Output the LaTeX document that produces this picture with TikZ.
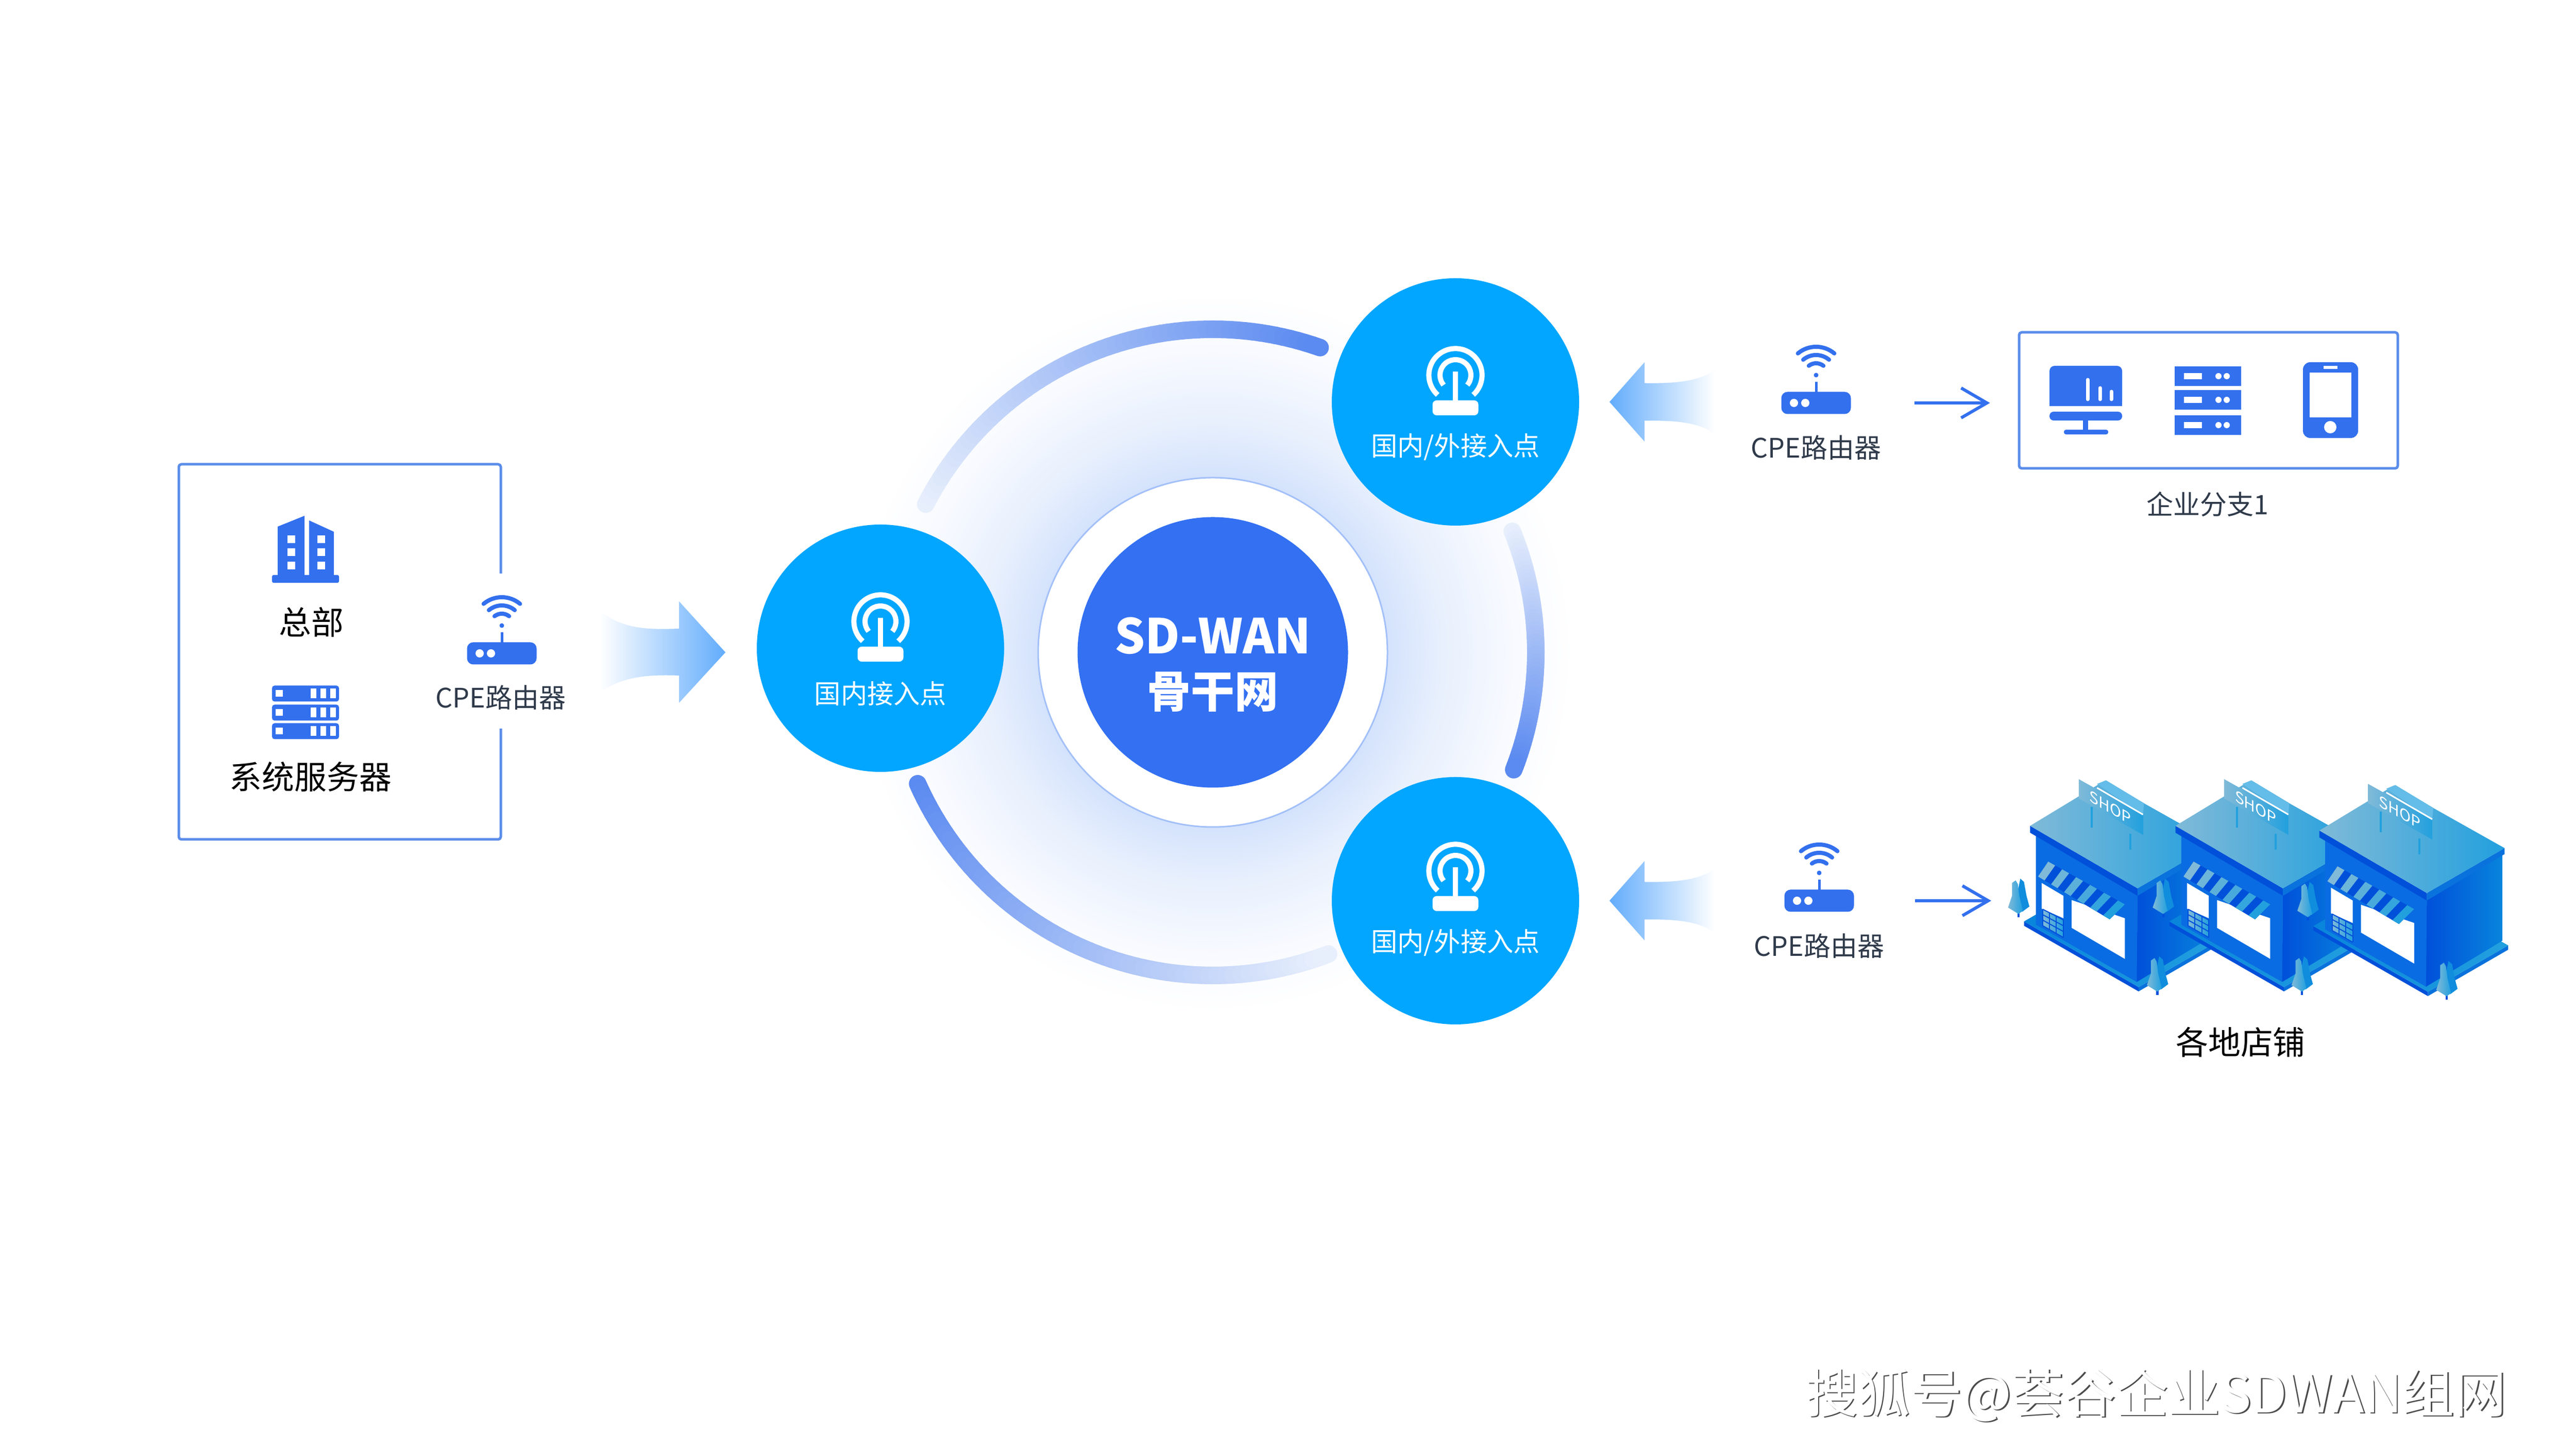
\documentclass[tikz,border=0pt]{standalone}
\usepackage{fontspec}
\setmainfont{Noto Sans CJK SC}
\usetikzlibrary{arrows.meta,calc}
\definecolor{iconblue}{HTML}{3370EE}
\definecolor{hubblue}{HTML}{3370F2}
\definecolor{accessblue}{HTML}{02A6FF}
\definecolor{framecol}{HTML}{5B8DEA}
\definecolor{inkdark}{HTML}{2F3A4A}
\definecolor{flowblue}{HTML}{62ACFC}
\definecolor{arcblue}{HTML}{5B8AF0}
\definecolor{arclight}{HTML}{E8EFFC}
\definecolor{glowa}{HTML}{D3E2FC}
\definecolor{glowb}{HTML}{E8F0FD}
\definecolor{glowc}{HTML}{F8FAFF}
\definecolor{shopdeep}{HTML}{0050DA}
\definecolor{shopwall}{HTML}{0A6CE2}
\definecolor{shopside}{HTML}{0884DC}
\definecolor{shopedge}{HTML}{0A72DC}
\definecolor{shoppale}{HTML}{80BAD8}
\definecolor{shopsky}{HTML}{22A0DE}
\pgfdeclareradialshading{glow}{\pgfpointorigin}{color(0bp)=(glowa); color(12bp)=(glowa); color(16bp)=(glowb); color(21bp)=(glowc); color(25bp)=(white); color(50bp)=(white)}
\tikzset{
  hubnode/.style={circle,fill=hubblue,minimum size=5.25cm,inner sep=0pt},
  hubtext/.style={text=white,align=center,inner sep=0pt,font=\fontsize{26.5}{30}\selectfont\bfseries},
  ringnode/.style={circle,fill=white,draw=glowa!70!iconblue,line width=.03cm,minimum size=6.78cm,inner sep=0pt},
  accessnode/.style={circle,fill=accessblue,minimum size=4.8cm,inner sep=0pt},
  accesstext/.style={text=white,inner sep=0pt,font=\fontsize{14.6}{17}\selectfont},
  basenode/.style={fill=iconblue,rounded corners=.12cm,minimum width=1.35cm,minimum height=.43cm,inner sep=0pt},
  cpetext/.style={text=inkdark,inner sep=0pt,font=\fontsize{14.8}{17}\selectfont},
  darktext/.style={text=black,inner sep=0pt,font=\fontsize{17.9}{20}\selectfont},
  framebox/.style={draw=framecol,line width=.05cm,rounded corners=.05cm},
  flowline/.style={draw=iconblue,line width=.06cm,-{Straight Barb[length=.5cm,width=.58cm]}},
  radio/.pic={
    \draw[white,line width=.1cm] (0,.52) ++(-48:.516) arc (-48:228:.516);
    \draw[white,line width=.1cm] (0,.52) ++(-40:.3) arc (-40:220:.3);
    \draw[white,line width=.1cm] (0,0) -- (0,.59);
    \fill[white,rounded corners=.08cm] (-.445,.03) rectangle (.445,-.26);
  },
  router/.pic={
    \draw[iconblue,line width=.05cm] (0,.2) -- (0,.41);
    \fill[iconblue] (0,.54) circle (.045);
    \foreach \r/\w in {.23/38,.39/40,.55/40}
      \draw[iconblue,line width=.08cm,line cap=round] (0,.54) ++(90-\w:\r) arc (90-\w:90+\w:\r);
    \fill[white] (-.43,0) circle (.08) (-.21,0) circle (.08);
  },
  inflow/.pic={
    \shade[left color=flowblue,right color=white] (2.04,.62) .. controls (1.7,.36) and (1.1,.36) .. (.68,.365)
      -- (.68,.77) -- (0,0) -- (.68,-.77) -- (.68,-.365) .. controls (1.1,-.36) and (1.7,-.36) .. (2.04,-.62) -- cycle;
  },
  rackrow/.pic={
    \fill[iconblue,rounded corners=.05cm] (-.65,-.155) rectangle (.65,.155);
    \fill[white] (-.58,-.065) rectangle (-.44,.065);
    \foreach \x in {.15,.34,.53} \fill[white] (\x-.055,-.095) rectangle (\x+.055,.095);
  },
  slimrow/.pic={
    \fill[iconblue] (-.645,-.19) rectangle (.645,.19);
    \fill[white] (-.46,-.06) rectangle (-.11,.06);
    \fill[white] (.21,0) circle (.06) (.37,0) circle (.06);
  },
  shop/.pic={
    \fill[shopdeep] (183,815) -- (500,1122) -- (500,1142) -- (183,835) -- cycle;
    \fill[shopedge] (500,1122) -- (722,905) -- (722,925) -- (500,1142) -- cycle;
    \shade[left color=shopside,right color=shopsky] (183,815) -- (405,600) -- (722,905) -- (500,1122) -- cycle;
    \shade[left color=shopdeep,right color=shopside] (497,665) -- (706,470) -- (706,883) -- (495,1098) -- cycle;
    \fill[shopwall] (216,395) -- (497,665) -- (495,1098) -- (216,830) -- cycle;
    \fill[shopdeep] (200,368) -- (497,660) -- (497,695) -- (200,400) -- cycle;
    \fill[shopedge] (497,660) -- (712,450) -- (712,478) -- (497,695) -- cycle;
    \shade[left color=shoppale,right color=shopsky] (200,368) -- (405,158) -- (712,450) -- (497,660) -- cycle;
    \fill[white] (232,635) -- (292,695) -- (292,800) -- (232,755) -- cycle;
    \fill[white] (315,715) -- (462,800) -- (462,990) -- (315,845) -- cycle;
    \shade[left color=shoppale,right color=shopsky] (235,758) -- (292,808) -- (292,890) -- (235,835) -- cycle;
    \foreach \f in {0,.33,.66,1} {
      \draw[shopdeep,line width=.02cm] ($(235,758)!\f!(292,808)$) -- ($(235,835)!\f!(292,890)$);
      \draw[shopdeep,line width=.02cm] ($(235,758)!\f!(235,835)$) -- ($(292,808)!\f!(292,890)$);
    }
    \fill[shopdeep] (250,535) -- (462,735) -- (420,805) -- (222,605) -- cycle;
    \foreach \i in {0,2,...,10} {
      \pgfmathsetmacro\sa{\i/11}
      \pgfmathsetmacro\sb{(\i+1)/11}
      \pgfmathsetmacro\mx{100*\i/10}
      \fill[shopsky!\mx!shoppale] ($(250,535)!\sa!(462,735)$) -- ($(250,535)!\sb!(462,735)$) -- ($(222,605)!\sb!(420,805)$) -- ($(222,605)!\sa!(420,805)$) -- cycle;
    }
    \fill[shopsky!70!white] (385,172) -- (410,155) -- (515,262) -- (512,318) -- cycle;
    \shade[left color=shoppale,right color=shopsky] (335,150) -- (512,318) -- (512,410) -- (335,240) -- cycle;
    \draw[white,line width=.03cm] (385,190) -- (512,315);
    \draw[shopsky,line width=.04cm] (370,280) -- (370,375);
    \draw[shopsky,line width=.04cm] (477,405) -- (477,480);
    \begin{scope}[shift={(422,282)},yslant=-.57]
      \node[transform shape,text=white,inner sep=0pt,font=\fontsize{8.5}{10}\selectfont] (signtext) at (0,0) {SHOP};
    \end{scope}
  },
  tree/.pic={
    \fill[shopdeep] (-3,-20) rectangle (3,0);
    \fill[shopside!70!shopsky] (5,-180) -- (15,-165) -- (22,-100) -- (30,-50) -- (10,-25) -- (-10,-60) -- cycle;
    \shade[left color=shoppale,right color=shopsky] (-18,-160) -- (-8,-172) -- (-2,-155) -- (2,-100) -- (12,-30) -- (0,-15) -- (-29,-45) -- (-18,-100) -- cycle;
  }
}
\newcommand{\gradarc}[4]{
  \foreach \i in {0,...,59} {
    \pgfmathsetmacro\mx{100*\i/59}
    \pgfmathsetmacro\p{#1+(#2-#1)*\i/60}
    \pgfmathsetmacro\q{#1+(#2-#1)*(\i+1)/60}
    \draw[line width=.34cm,line cap=round,draw=#4!\mx!#3] (23.54,15.46) ++(\p:6.27) arc (\p:\q:6.27);
  }
}
\begin{document}
\begin{tikzpicture}[>=stealth, line join=round]
  \useasboundingbox (0,0) rectangle (50,28.12);
  \fill[white] (0,0) rectangle (50,28.12);
  \shade[shading=glow] (23.54,15.46) circle (7);
  \gradarc{152.7}{70.6}{arclight}{arcblue}
  \gradarc{22}{-21.3}{arclight}{arcblue}
  \gradarc{204}{291}{arcblue}{arclight}
  \node[ringnode] (ring) at (23.54,15.46) {};
  \node[hubnode] (hub) at (23.54,15.46) {};
  \node[hubtext,yshift=-.24cm] (hubname) at (hub) {SD-WAN\\{\fontsize{24.2}{30}\selectfont 骨干网}};
  \node[accessnode] (west) at (17.09,15.54) {};
  \node[accessnode] (north) at (28.25,20.32) {};
  \node[accessnode] (south) at (28.25,10.64) {};
  \pic at (west) {radio};
  \pic at (north) {radio};
  \pic at ([yshift=.06cm]south) {radio};
  \node[accesstext,yshift=-.88cm] (westtext) at (west) {国内接入点};
  \node[accesstext,yshift=-.88cm] (northtext) at (north) {国内/外接入点};
  \node[accesstext,yshift=-.82cm] (southtext) at (south) {国内/外接入点};
  % head office
  \draw[framebox] (9.72,16.99) -- (9.72,19.11) -- (3.47,19.11) -- (3.47,11.83) -- (9.72,11.83) -- (9.72,13.98);
  \begin{scope}[shift={(5.93,17.46)}]
    \fill[iconblue] (-.54,-.52) -- (-.54,.44) -- (-.02,.65) -- (-.02,-.52) -- cycle;
    \fill[iconblue] (.07,-.52) -- (.07,.56) -- (.55,.34) -- (.55,-.52) -- cycle;
    \fill[iconblue,rounded corners=.03cm] (-.65,-.65) rectangle (.65,-.5);
    \foreach \x in {-.28,.3} \foreach \y in {.19,-.06,-.32}
      \fill[white] (\x-.075,\y-.075) rectangle (\x+.075,\y+.075);
  \end{scope}
  \node[darktext] (hqtext) at (6.04,16.05) {总部};
  \foreach \y in {14.66,14.29,13.93} \pic at (5.93,\y) {rackrow};
  \node[darktext] (servertext) at (6.03,13.04) {系统服务器};
  \node[basenode] (cpewest) at (9.74,15.44) {};
  \pic at (cpewest) {router};
  \node[cpetext] (cpewesttext) at (9.72,14.58) {CPE路由器};
  \shade[left color=white,right color=flowblue] (11.65,16.26) .. controls (12.1,15.9) and (12.6,15.9) .. (13.18,15.92)
    -- (13.18,16.45) -- (14.08,15.46) -- (13.18,14.48) -- (13.18,15.01) .. controls (12.6,15.03) and (12.1,15) .. (11.65,14.69) -- cycle;
  % branch
  \pic at (31.24,20.32) {inflow};
  \node[basenode] (cpenorth) at (35.25,20.3) {};
  \pic at (cpenorth) {router};
  \node[cpetext] (cpenorthtext) at (35.25,19.43) {CPE路由器};
  \node[framebox,minimum width=7.35cm,minimum height=2.64cm,inner sep=0pt] (branch) at (42.865,20.35) {};
  \draw[flowline,shorten <=1.23cm,shorten >=.54cm] (cpenorth.east) -- (cpenorth.east -| branch.west);
  \node[cpetext] (branchtext) at (42.85,18.33) {企业分支1};
  \fill[iconblue,rounded corners=.1cm] (39.78,20.24) |- (41.19,21.02) |- cycle;
  \fill[iconblue] (39.78,20.24) rectangle (41.19,20.5);
  \fill[iconblue,rounded corners=.08cm] (39.78,20.13) -- (41.19,20.13) -- (41.19,19.96) -- (39.78,19.96) -- cycle;
  \fill[iconblue] (40.43,20) rectangle (40.53,19.75);
  \fill[iconblue,rounded corners=.04cm] (40.06,19.78) rectangle (40.92,19.69);
  \foreach \x/\y in {40.52/20.75,40.76/20.59,40.98/20.52}
    \draw[white,line width=.07cm,line cap=round] (\x,20.37) -- (\x,\y);
  \foreach \y in {20.82,20.36,19.87} \pic at (42.85,\y) {slimrow};
  \fill[iconblue,rounded corners=.14cm] (44.7,19.62) rectangle (45.77,21.09);
  \fill[white] (44.83,20.02) rectangle (45.64,20.89);
  \fill[white] (45.1,20.96) rectangle (45.37,21.02);
  \fill[white] (45.23,19.83) circle (.12);
  % stores
  \pic at (31.24,10.64) {inflow};
  \node[basenode] (cpesouth) at (35.31,10.64) {};
  \pic at (cpesouth) {router};
  \node[cpetext] (cpesouthtext) at (35.31,9.76) {CPE路由器};
  \coordinate (stores) at (38.65,10.64);
  \draw[flowline,shorten <=1.18cm] (cpesouth.east) -- (stores);
  \begin{scope}[shift={(38,13.62)},x=.00702cm,y=-.004146cm]
    \pic (shopa) at (0,0) {shop};
    \pic (shopb) at (402,0) {shop};
    \pic (shopc) at (800,22) {shop};
    \foreach \tx/\ty in {168/795,568/795,968/810,552/1158,952/1158,1352/1180}
      \pic at (\tx,\ty) {tree};
  \end{scope}
  \node[darktext] (storetext) at (43.49,7.9) {各地店铺};
  % mark
  \node[text=black!70,inner sep=0pt,font=\fontsize{28.8}{30}\selectfont] (markshade) at (41.875,1.03) {搜狐号@荟谷企业SDWAN组网};
  \node[text=white,inner sep=0pt,font=\fontsize{28.8}{30}\selectfont] (mark) at (41.85,1.05) {搜狐号@荟谷企业SDWAN组网};
\end{tikzpicture}
\end{document}
